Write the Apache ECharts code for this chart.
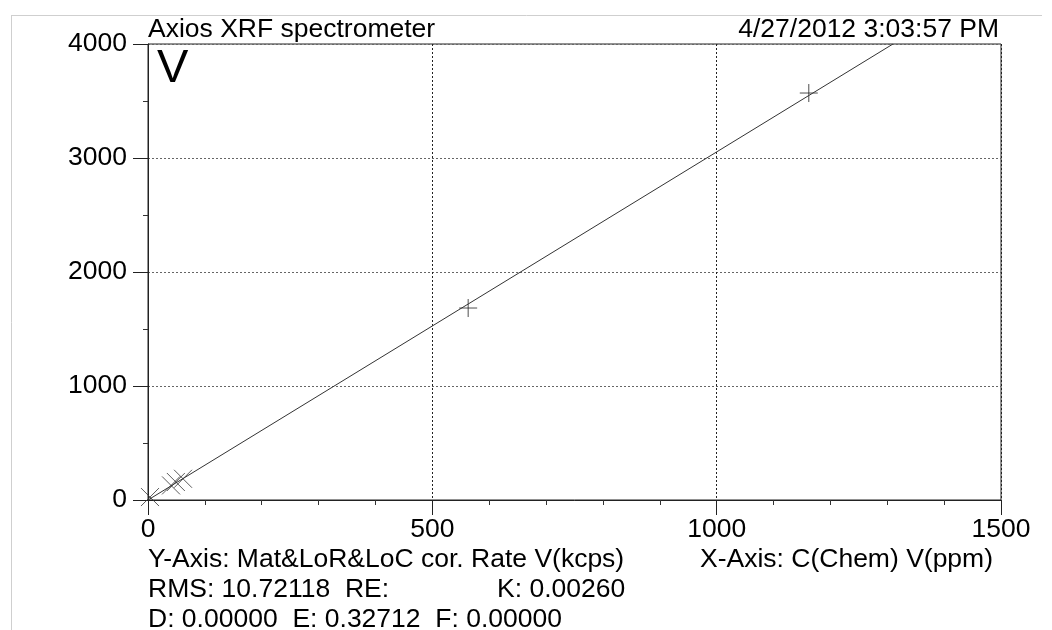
<!DOCTYPE html>
<html>
<head>
<meta charset="utf-8">
<script src="https://cdn.jsdelivr.net/npm/echarts@6/dist/echarts.min.js"></script>
<style>html,body{margin:0;padding:0;background:#fff;}#c{width:1052px;height:630px;}</style>
</head>
<body>
<div id="c"></div>
<script>
// ---- data ----
const xTicks = [0, 500, 1000, 1500];
const yTicks = [0, 1000, 2000, 3000, 4000];
const plusPoints = [[563, 1684], [1162, 3570]];
const crossPoints = [[3.5, 26], [40.5, 128], [49, 158], [61.6, 186]];
const calibLine = [[0, 0], [1310, 4000]];
const titleLeft = 'Axios XRF spectrometer';
const titleRight = '4/27/2012 3:03:57 PM';
const elementLabel = 'V';
const infoY = 'Y-Axis: Mat&LoR&LoC cor. Rate V(kcps)';
const infoX = 'X-Axis: C(Chem) V(ppm)';
const infoRMS = 'RMS: 10.72118  RE:';
const infoK = 'K: 0.00260';
const infoDEF = 'D: 0.00000  E: 0.32712  F: 0.00000';

const FONT = '"Liberation Sans", Arial, sans-serif';
const FS = 26.5;
const chart = echarts.init(document.getElementById('c'), null, {renderer: 'canvas'});
function txt(x, y, text, opts) {
  return Object.assign({type: 'text', x: x, y: y, silent: true,
    style: Object.assign({text: text, fill: '#000', font: FS + 'px ' + FONT, textVerticalAlign: 'middle'}, opts || {})});
}
chart.setOption({
  backgroundColor: '#fff',
  animation: false,
  grid: {left: 148, top: 44, right: 51, bottom: 130, show: true, borderColor: '#222', borderWidth: 1, backgroundColor: 'transparent'},
  xAxis: {
    type: 'value', min: xTicks[0], max: xTicks[xTicks.length - 1], interval: 500,
    axisLine: {show: true, onZero: false, lineStyle: {color: '#222', width: 1}},
    axisTick: {show: true, length: 15, lineStyle: {color: '#222'}},
    minorTick: {show: true, splitNumber: 5, length: 5, lineStyle: {color: '#333'}},
    axisLabel: {fontFamily: FONT, fontSize: FS, color: '#000', margin: 16,
      formatter: v => xTicks.includes(v) ? String(v) : ''},
    splitLine: {show: true, lineStyle: {color: '#222', type: [2, 2], width: 1}}
  },
  yAxis: {
    type: 'value', min: yTicks[0], max: yTicks[yTicks.length - 1], interval: 1000,
    axisLine: {show: true, onZero: false, lineStyle: {color: '#222', width: 1}},
    axisTick: {show: true, length: 15, lineStyle: {color: '#222'}},
    minorTick: {show: true, splitNumber: 2, length: 5, lineStyle: {color: '#333'}},
    axisLabel: {fontFamily: FONT, fontSize: FS, color: '#000', margin: 21,
      formatter: v => yTicks.includes(v) ? String(v) : ''},
    splitLine: {show: true, lineStyle: {color: '#666', type: [2, 2], width: 1}}
  },
  series: [
    {type: 'line', data: calibLine, symbol: 'none', silent: true,
      lineStyle: {color: '#333', width: 1}},
    {type: 'scatter', data: plusPoints, symbol: 'path://M0,5L10,5M5,0L5,10', symbolSize: 18,
      itemStyle: {color: 'none', borderColor: '#222', borderWidth: 1}},
    {type: 'scatter', data: crossPoints, symbol: 'path://M0,0L10,10M10,0L0,10', symbolSize: 18,
      itemStyle: {color: 'none', borderColor: '#333', borderWidth: 1}}
  ],
  graphic: [
    {type: 'line', silent: true, shape: {x1: 11, y1: 15.5, x2: 1042, y2: 15.5}, style: {stroke: '#cfcfcf', lineWidth: 1}},
    {type: 'line', silent: true, shape: {x1: 11.5, y1: 15, x2: 11.5, y2: 630}, style: {stroke: '#cfcfcf', lineWidth: 1}},
    txt(148, 30, titleLeft),
    txt(999, 30, titleRight, {textAlign: 'right'}),
    txt(157, 69, elementLabel, {font: '47px ' + FONT}),
    txt(148, 560, infoY),
    txt(700, 560, infoX),
    txt(148, 590, infoRMS),
    txt(497, 590, infoK),
    txt(148, 620, infoDEF)
  ]
});
</script>
</body>
</html>
